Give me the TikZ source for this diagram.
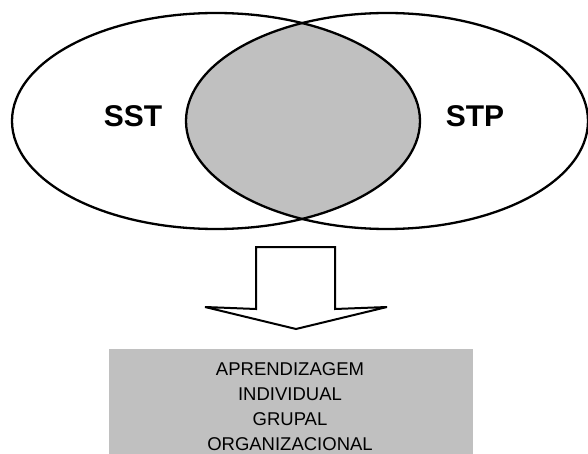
\documentclass[tikz,border=0pt]{standalone}
\usepackage{fontspec}
\setmainfont{Liberation Sans}
\definecolor{overlapgray}{HTML}{C0C0C0}
\begin{document}
\begin{tikzpicture}[x=1pt,y=-1pt,
  setline/.style={draw=black,line width=2.3pt},
  setlabel/.style={font=\fontsize{30}{36}\selectfont\bfseries},
  blockarrow/.style={draw=black,line width=2pt,fill=white,line join=miter},
  resultbox/.style={fill=overlapgray,draw=none}]
\useasboundingbox (0,0) rectangle (588,454);
\fill[white] (0,0) rectangle (588,454);

% overlap of the two sets
\begin{scope}
  \clip (216,121) ellipse [x radius=204, y radius=108];
  \fill[overlapgray] (387,121) ellipse [x radius=201, y radius=108];
\end{scope}

% the two sets
\draw[setline] (216,121) ellipse [x radius=204, y radius=108];
\draw[setline] (387,121) ellipse [x radius=201, y radius=108];
\node[setlabel] (sst) at (133,116) {SST};
\node[setlabel] (stp) at (475,116) {STP};

% block arrow pointing down
\draw[blockarrow] (256,247) -- (335,247) -- (335,309) -- (387,307)
  -- (296,329) -- (205,307) -- (256,309) -- cycle;

% result box
\fill[resultbox] (109,349) rectangle (473,454);
\node[align=center,font=\fontsize{18.5}{25}\selectfont,anchor=north] (out) at (290,359)
  {APRENDIZAGEM\\INDIVIDUAL\\GRUPAL\\ORGANIZACIONAL};
\end{tikzpicture}
\end{document}
